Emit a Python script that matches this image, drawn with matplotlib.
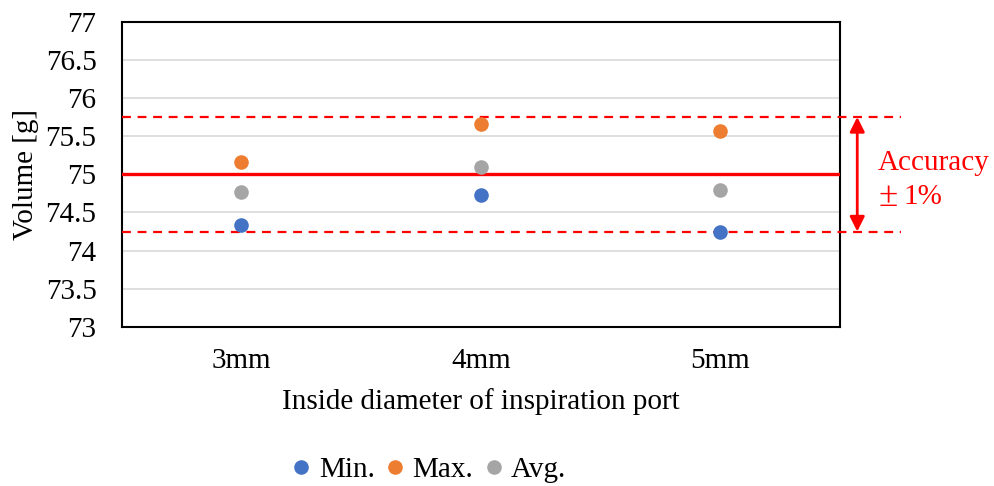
import matplotlib
matplotlib.use("Agg")
import matplotlib.pyplot as plt
import matplotlib.transforms as mtransforms

plt.rcParams['font.family'] = ['Liberation Serif', 'DejaVu Serif']

categories = ["3mm", "4mm", "5mm"]
vol_min = [74.33, 74.73, 74.24]
vol_max = [75.16, 75.66, 75.56]
vol_avg = [74.77, 75.10, 74.79]
target = 75.0
tolerance = 0.01
yticks = [73, 73.5, 74, 74.5, 75, 75.5, 76, 76.5, 77]

FS = 21

fig = plt.figure(figsize=(9.94, 4.86), dpi=100)
ax = fig.add_axes([121.5 / 994, 1 - 327 / 486, (840 - 121.5) / 994, (327 - 21.5) / 486])

x = list(range(len(categories)))
series = [("Min.", vol_min, "#4472C4"), ("Max.", vol_max, "#ED7D31"), ("Avg.", vol_avg, "#A5A5A5")]
for label, vals, color in series:
    ax.plot(x, vals, linestyle="none", marker="o", markersize=10.5, color=color,
            markeredgewidth=0, label=label, zorder=4)

ax.set_xlim(-0.5, 2.5)
ax.set_ylim(73, 77)
ax.set_yticks(yticks)
ax.set_yticklabels([f"{t:g}" for t in yticks])
ax.set_xticks(x)
ax.set_xticklabels(categories)
ax.tick_params(axis="both", length=0, labelsize=FS)
ax.tick_params(axis="x", pad=15)
ax.tick_params(axis="y", pad=18)
ax.grid(axis="y", color="#d9d9d9", linewidth=1.2, zorder=0)
ax.set_axisbelow(True)
for s in ax.spines.values():
    s.set_color("black")
    s.set_linewidth(1.5)

# Target value and ±1% band
lo = target * (1 - tolerance)
hi = target * (1 + tolerance)
ax.axhline(target, color="red", linewidth=2.4, zorder=3)
blend = mtransforms.blended_transform_factory(ax.transAxes, ax.transData)
for yv in (lo, hi):
    ax.plot([0, 1.085], [yv, yv], transform=blend, color="red", linestyle=(0, (4, 3)),
            linewidth=1.6, clip_on=False, zorder=3)
ax.annotate("", xy=(1.024, lo), xytext=(1.024, hi), xycoords=blend, textcoords=blend,
            arrowprops=dict(arrowstyle="<|-|>", color="red", lw=2, mutation_scale=22,
                            shrinkA=0, shrinkB=0))
ax.text(1.053, 75.15, "Accuracy", transform=blend, color="red", fontsize=FS,
        ha="left", va="center")
ax.text(1.053, 74.70, "±", transform=blend, color="red", fontsize=FS * 1.2,
        ha="left", va="center")
ax.text(1.088, 74.70, "1%", transform=blend, color="red", fontsize=FS,
        ha="left", va="center")

ax.set_ylabel("Volume [g]", fontsize=FS, labelpad=5)
ax.set_xlabel("Inside diameter of inspiration port", fontsize=FS, labelpad=10)

fig.legend(loc="center", bbox_to_anchor=(428 / 994, 1 - 470 / 486), ncol=3, frameon=False,
           fontsize=FS, handletextpad=0.2, columnspacing=0.3, markerscale=1.0,
           handlelength=0.8)

fig.savefig("out.png", dpi=100)
